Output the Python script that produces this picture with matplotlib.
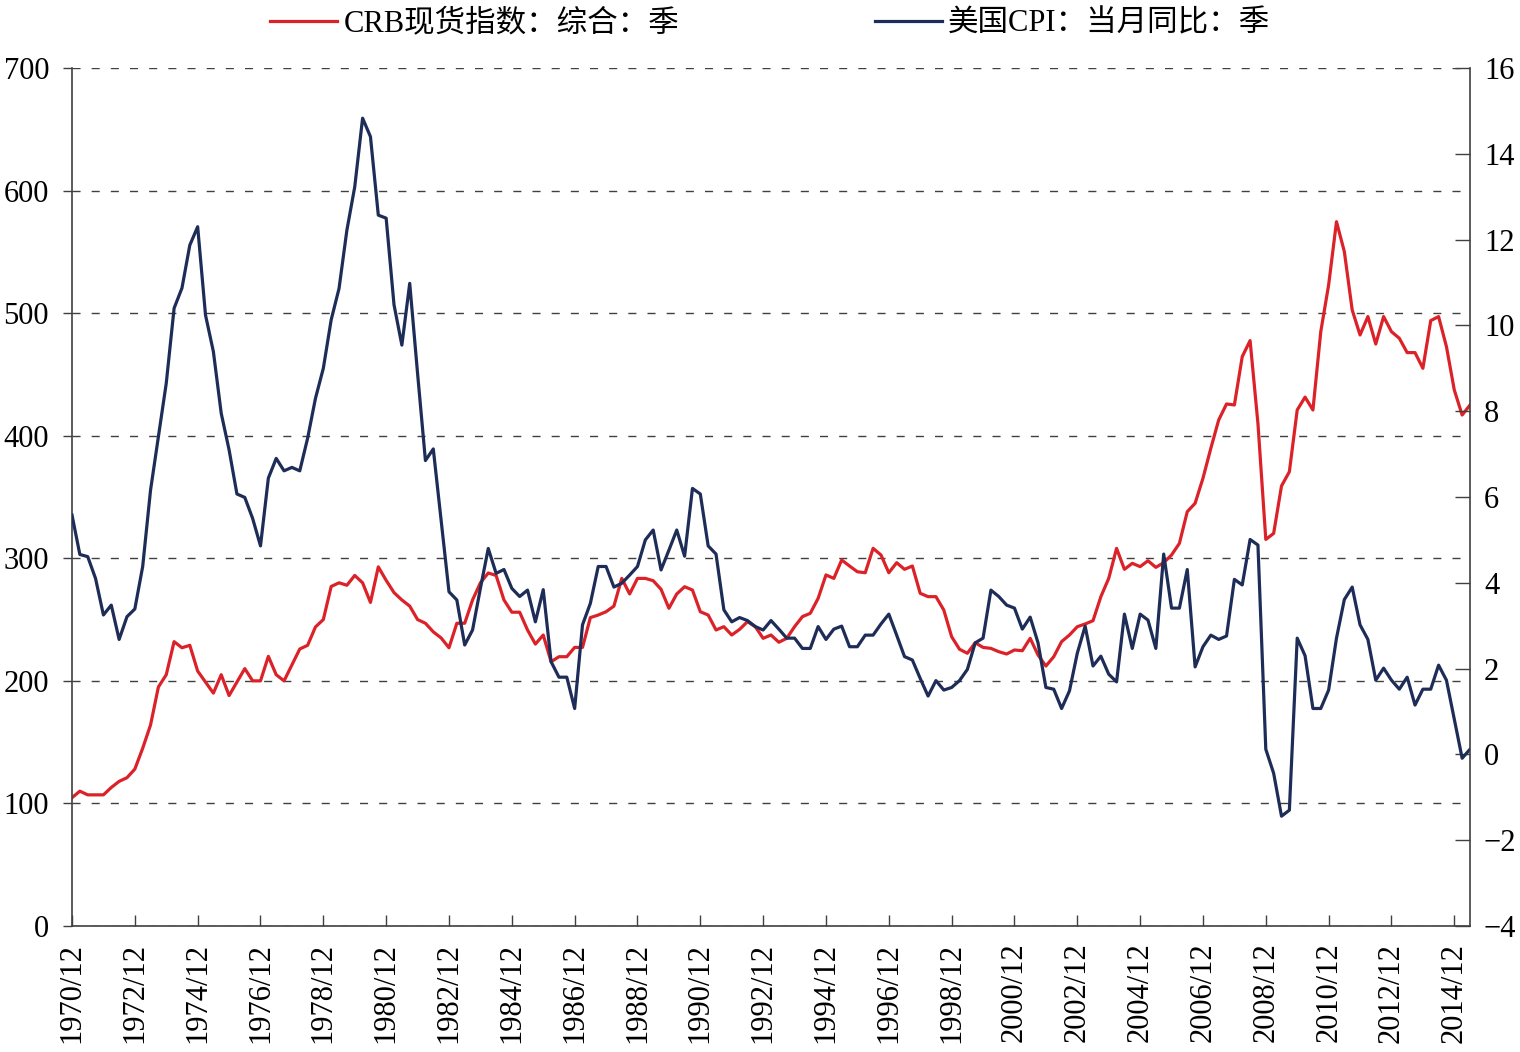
import numpy as np
import matplotlib
matplotlib.use('Agg')
import matplotlib.pyplot as plt

# 季度数据：1970/12 - 2015/06
crb = [104.7, 110, 107, 107, 107, 113, 118, 121, 128, 145,
       164, 195, 205, 232, 227, 229, 208, 199, 190, 205,
       188, 199, 210, 200, 200, 220, 205, 200, 213, 226,
       229, 244, 250, 277, 280, 278, 286, 280, 264, 293,
       282, 272, 266, 261, 250, 247, 240, 235, 227, 247,
       247, 266, 280, 288, 286, 266, 256, 256, 241.5, 230,
       237.4, 215.6, 219.7, 219.7, 227.3, 227.3, 251.6, 253.7, 256.4, 261,
       283.6, 270.9, 283.6, 283.6, 281.7, 274.7, 259.2, 270.9, 276.8, 274.1,
       256.4, 253.7, 241.5, 244.2, 237.4, 242, 248.3, 244.2, 234.7, 237.4,
       231.5, 234.7, 244.2, 252.4, 255.1, 267.3, 286.4, 283.6, 298.6, 293.7,
       289, 288.2, 308.1, 302.7, 288.2, 296.4, 291, 293.7, 271.4, 268.7,
       268.7, 257.8, 236, 225.8, 222.5, 231.1, 227.3, 226.5, 223.8, 221.9,
       225.2, 224.6, 234.7, 221.1, 212.1, 219.7, 232, 237.4, 244.2, 246.4,
       249.1, 268.7, 283.6, 308.1, 291, 295.9, 293.2, 298, 292.6, 296.4,
       302.7, 312.2, 338, 344.9, 365.3, 389.7, 412.8, 425.9, 425.1, 464.5,
       477.6, 410, 315.4, 320.3, 359, 370.6, 421, 431.5, 421, 484.9,
       523, 574.6, 550.2, 502.6, 482.2, 497.2, 474.8, 497.2, 484.9, 479.5,
       467.8, 467.8, 455, 493.9, 497.2, 472.7, 437.3, 416.9, 425]

cpi = [5.58, 4.66, 4.61, 4.10, 3.25, 3.48, 2.68, 3.21, 3.39, 4.38,
       6.16, 7.40, 8.65, 10.40, 10.87, 11.87, 12.30, 10.24, 9.39, 7.95,
       7.10, 6.07, 5.99, 5.50, 4.86, 6.44, 6.90, 6.61, 6.69, 6.61,
       7.37, 8.30, 9.00, 10.13, 10.86, 12.22, 13.23, 14.83, 14.40, 12.57,
       12.50, 10.48, 9.54, 10.98, 8.88, 6.85, 7.12, 5.46, 3.79, 3.60,
       2.55, 2.90, 3.87, 4.80, 4.22, 4.31, 3.87, 3.68, 3.83, 3.09,
       3.84, 2.16, 1.80, 1.80, 1.07, 3.02, 3.52, 4.38, 4.38, 3.90,
       3.99, 4.18, 4.38, 5.00, 5.23, 4.30, 4.76, 5.23, 4.62, 6.20,
       6.07, 4.86, 4.67, 3.37, 3.09, 3.19, 3.12, 2.98, 2.90, 3.12,
       2.92, 2.71, 2.71, 2.47, 2.47, 2.98, 2.68, 2.92, 2.99, 2.51,
       2.51, 2.78, 2.78, 3.04, 3.27, 2.78, 2.28, 2.20, 1.77, 1.36,
       1.72, 1.50, 1.56, 1.72, 1.98, 2.60, 2.71, 3.83, 3.68, 3.48,
       3.41, 2.92, 3.20, 2.60, 1.56, 1.52, 1.07, 1.48, 2.36, 2.99,
       2.06, 2.29, 1.87, 1.69, 3.27, 2.47, 3.27, 3.13, 2.47, 4.67,
       3.41, 3.41, 4.31, 2.04, 2.51, 2.78, 2.68, 2.76, 4.08, 3.95,
       5.01, 4.88, 0.12, -0.44, -1.44, -1.30, 2.71, 2.30, 1.07, 1.07,
       1.50, 2.71, 3.61, 3.90, 3.02, 2.68, 1.73, 2.01, 1.73, 1.52,
       1.80, 1.15, 1.52, 1.52, 2.08, 1.73, 0.82, -0.09, 0.12]

fechas = [f"{1970 + (i + 3) // 4}/{[3, 6, 9, 12][(i + 3) % 4]:02d}" for i in range(len(crb))]

nombre_crb = 'CRB现货指数：综合：季'
nombre_cpi = '美国CPI：当月同比：季'

plt.rcParams['font.family'] = ['Liberation Serif', 'Noto Sans CJK SC']
plt.rcParams['axes.unicode_minus'] = True

rojo = '#DC2229'
azul = '#1E2D58'
gris = '#404040'

fig = plt.figure(figsize=(15.2, 10.52), dpi=100)
ax = fig.add_axes([72 / 1520, 1 - 926 / 1052, 1398 / 1520, 858 / 1052])
x = np.arange(len(crb))

l1, = ax.plot(x, crb, color=rojo, lw=2.3)
ax.set_ylim(0, 700)
ax.set_yticks(range(0, 701, 100))
ax.set_xlim(0, len(crb) - 1)
ax.set_xticks(x[::8])
ax.set_xticklabels(fechas[::8], rotation=90)
ax.yaxis.grid(True, color=gris, lw=1.0, dashes=(5.8, 8))
ax.set_axisbelow(True)
ax.tick_params(axis='y', direction='out', length=6.5, width=1, color=gris, pad=10, labelsize=22)
ax.tick_params(axis='x', direction='in', length=8, width=1, color=gris, pad=12, labelsize=22)

ax2 = ax.twinx()
l2, = ax2.plot(x, cpi, color=azul, lw=2.3)
ax2.set_ylim(-4, 16)
ax2.set_yticks(range(-4, 17, 2))
ax2.tick_params(axis='y', direction='in', length=11, width=1, color=gris, pad=10, labelsize=22)

for a in (ax, ax2):
    a.spines['top'].set_visible(False)
    for s in ('left', 'right', 'bottom'):
        a.spines[s].set_color(gris)
        a.spines[s].set_linewidth(1.2)
ax.spines['right'].set_visible(False)
ax2.spines['left'].set_visible(False)
ax2.spines['bottom'].set_visible(False)

fig.legend([l1, l2], [nombre_crb, nombre_cpi], loc='upper left',
           bbox_to_anchor=(270 / 1520, 0.991), ncol=2, frameon=False,
           fontsize=22, handlelength=2.2, handletextpad=0.2,
           columnspacing=6.4, borderpad=0, borderaxespad=0)

fig.savefig('out.png', dpi=100)
